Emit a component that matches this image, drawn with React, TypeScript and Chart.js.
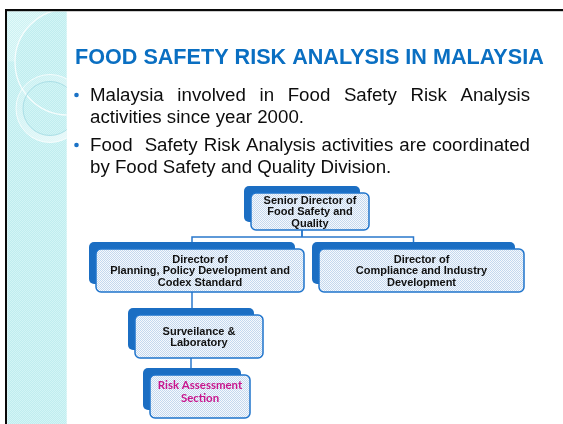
import React, { useEffect, useRef } from "react";
import { Chart, registerables } from "chart.js";

Chart.register(...registerables);

// ---- content ----
const slideTitle = "FOOD SAFETY RISK ANALYSIS IN MALAYSIA";
const bullet1 = ["Malaysia involved in Food Safety Risk Analysis", "activities since year 2000."];
const bullet2 = ["Food  Safety Risk Analysis activities are coordinated", "by Food Safety and Quality Division."];
const orgLabels = [
  ["Senior Director of", "Food Safety and", "Quality"],
  ["Director of", "Planning, Policy Development and", "Codex Standard"],
  ["Director of", "Compliance and Industry", "Development"],
  ["Surveilance &", "Laboratory"],
  ["Risk Assessment", "Section"],
];
const orgParents = [-1, 0, 0, 1, 3];
const orgHighlight = [false, false, false, false, true];

const W = 563;
const H = 424;

function makePattern(ctx: CanvasRenderingContext2D, a: string, b: string) {
  const c = document.createElement("canvas");
  c.width = 2;
  c.height = 2;
  const g = c.getContext("2d")!;
  g.fillStyle = a;
  g.fillRect(0, 0, 2, 2);
  g.fillStyle = b;
  g.fillRect(0, 0, 1, 1);
  g.fillRect(1, 1, 1, 1);
  return ctx.createPattern(c, "repeat")!;
}

export default function App() {
  const ref = useRef<HTMLCanvasElement | null>(null);

  useEffect(() => {
    const canvas = ref.current!;
    // layout of the slide (x, y, w, h) in slide units
    const boxes = [
      [251, 193, 118, 37],
      [96, 249, 208, 43],
      [319, 249, 205, 43],
      [135, 315, 128, 43],
      [150, 375, 100, 43],
    ];

    const slidePlugin = {
      id: "slide",
      afterDraw(chart: any) {
        const ctx: CanvasRenderingContext2D = chart.ctx;
        const xs = chart.scales.x;
        const ys = chart.scales.y;
        const X = (v: number) => xs.getPixelForValue(v);
        const Y = (v: number) => ys.getPixelForValue(v);
        const S = (v: number) => X(v) - X(0);

        ctx.save();
        // white page
        ctx.fillStyle = "#ffffff";
        ctx.fillRect(X(0), Y(0), S(W), S(H));

        // left cyan panel
        const px0 = X(7.3), py0 = Y(11.5), pw = S(59.4), ph = S(H - 11.5);
        ctx.fillStyle = makePattern(ctx, "#c0edef", "#d3f5f6");
        ctx.fillRect(px0, py0, pw, ph);

        ctx.save();
        ctx.beginPath();
        ctx.rect(px0, py0, pw, ph);
        ctx.clip();
        // lighter top-left region outside the big arc
        ctx.save();
        ctx.beginPath();
        ctx.rect(px0, py0, S(50), S(50));
        ctx.clip();
        ctx.beginPath();
        ctx.rect(px0, py0, S(62), S(52));
        ctx.arc(X(68), Y(62), S(53), 0, Math.PI * 2, true);
        ctx.fillStyle = makePattern(ctx, "#cdf2f3", "#e2f9f9");
        ctx.fill("evenodd");
        ctx.restore();
        // big arc
        ctx.beginPath();
        ctx.arc(X(68), Y(62), S(53), 0, Math.PI * 2);
        ctx.strokeStyle = "rgba(255,255,255,0.8)";
        ctx.lineWidth = 1.3;
        ctx.stroke();
        // ring
        const grd = ctx.createLinearGradient(X(20), Y(75), X(70), Y(142));
        grd.addColorStop(0, "rgba(255,255,255,0.08)");
        grd.addColorStop(1, "rgba(255,255,255,0.6)");
        ctx.beginPath();
        ctx.arc(X(50), Y(108.5), S(34), 0, Math.PI * 2);
        ctx.arc(X(50), Y(108.5), S(27), 0, Math.PI * 2, true);
        ctx.fillStyle = grd;
        ctx.fill("evenodd");
        ctx.lineWidth = 1;
        ctx.strokeStyle = "rgba(255,255,255,0.75)";
        ctx.beginPath();
        ctx.arc(X(50), Y(108.5), S(34), 0, Math.PI * 2);
        ctx.stroke();
        ctx.strokeStyle = "rgba(160,218,226,0.8)";
        ctx.beginPath();
        ctx.arc(X(50), Y(108.5), S(27), 0, Math.PI * 2);
        ctx.stroke();
        ctx.restore();

        // slide frame lines
        ctx.fillStyle = "#0a0a0a";
        ctx.fillRect(X(5), Y(9), S(W - 5), S(2.2));
        ctx.fillRect(X(5), Y(9), S(2), S(H - 9));

        // title
        ctx.fillStyle = "#0a6fc2";
        ctx.textBaseline = "alphabetic";
        ctx.textAlign = "left";
        ctx.font = `bold ${S(21.6)}px "Liberation Sans", Arial, sans-serif`;
        ctx.fillText(slideTitle, X(75), Y(64));

        // bullets
        ctx.font = `${S(18.7)}px "Liberation Sans", Arial, sans-serif`;
        const justify = (text: string, x: number, y: number, width: number) => {
          const tokens = text.split(" ");
          const wordsW = tokens.reduce((s, t) => s + ctx.measureText(t).width, 0);
          const gap = (width - wordsW) / (tokens.length - 1);
          let cx = x;
          tokens.forEach((t) => {
            ctx.fillText(t, cx, y);
            cx += ctx.measureText(t).width + gap;
          });
        };
        const bullets = [bullet1, bullet2];
        const bulletBase = [100.7, 150.7];
        bullets.forEach((lines, bi) => {
          ctx.fillStyle = "#1a72c6";
          ctx.beginPath();
          ctx.arc(X(76.5), Y(bulletBase[bi] - 5.7), S(2.3), 0, Math.PI * 2);
          ctx.fill();
          ctx.fillStyle = "#0d0d0d";
          lines.forEach((ln, li) => {
            const y = Y(bulletBase[bi] + li * 22.3);
            if (li < lines.length - 1) justify(ln, X(90), y, S(440));
            else ctx.fillText(ln, X(90), y);
          });
        });

        // org chart
        const anchorX = (i: number) => boxes[i][0] + boxes[i][2] / 2 - 8;
        const shadowTop = (i: number) => boxes[i][1] - 7;
        const bottom = (i: number) => boxes[i][1] + boxes[i][3];
        ctx.strokeStyle = "#2a78cc";
        ctx.lineWidth = 1.5;
        orgParents.forEach((p, i) => {
          if (p < 0) return;
          const siblings = orgParents.filter((q) => q === p).length;
          ctx.beginPath();
          if (siblings > 1) {
            const busY = bottom(p) + 7;
            ctx.moveTo(X(anchorX(p)), Y(bottom(p)));
            ctx.lineTo(X(anchorX(p)), Y(busY));
            ctx.moveTo(X(anchorX(p)), Y(busY));
            ctx.lineTo(X(anchorX(i)), Y(busY));
            ctx.lineTo(X(anchorX(i)), Y(shadowTop(i)));
          } else {
            ctx.moveTo(X(anchorX(p)), Y(bottom(p)));
            ctx.lineTo(X(anchorX(p)), Y(shadowTop(i)));
          }
          ctx.stroke();
        });

        const boxFill = makePattern(ctx, "#f6f9fd", "#c4d8ee");
        orgLabels.forEach((lines, i) => {
          const [bx, by, bw, bh] = boxes[i];
          // shadow
          ctx.fillStyle = "#1b6ec3";
          ctx.beginPath();
          (ctx as any).roundRect(X(bx - 7), Y(by - 7), S(bw - 2), S(bh - 1), S(5));
          ctx.fill();
          // front
          ctx.beginPath();
          (ctx as any).roundRect(X(bx), Y(by), S(bw), S(bh), S(5));
          ctx.fillStyle = boxFill;
          ctx.fill();
          ctx.strokeStyle = "#1f74cc";
          ctx.lineWidth = 1.5;
          ctx.stroke();
          // text
          ctx.textAlign = "center";
          const cx = X(bx + bw / 2);
          const cy = by + bh / 2;
          const mid = (lines.length - 1) / 2;
          if (orgHighlight[i]) {
            ctx.font = `bold ${S(12)}px Lato, "Noto Sans", sans-serif`;
            const m = ctx.measureText(lines[0]).width;
            const fs = (12 * S(84.4)) / m;
            ctx.font = `bold ${fs}px Lato, "Noto Sans", sans-serif`;
            ctx.fillStyle = "#c8158d";
            lines.forEach((ln, li) => ctx.fillText(ln, cx, Y(cy - 1 + (li - mid) * 12.4)));
          } else {
            ctx.font = `bold ${S(11)}px "Liberation Sans", Arial, sans-serif`;
            ctx.fillStyle = "#111111";
            lines.forEach((ln, li) => ctx.fillText(ln, cx, Y(cy + 3.9 + (li - mid) * 11.1)));
          }
          ctx.textAlign = "left";
        });
        ctx.restore();
      },
    };

    const chart = new Chart(canvas, {
      type: "scatter",
      data: { datasets: [{ data: [], pointRadius: 0 }] },
      options: {
        responsive: false,
        maintainAspectRatio: false,
        animation: false,
        events: [],
        layout: { padding: 0 },
        plugins: { legend: { display: false }, tooltip: { enabled: false }, title: { display: false } },
        scales: {
          x: { type: "linear", min: 0, max: W, display: false },
          y: { type: "linear", min: 0, max: H, reverse: true, display: false },
        },
      },
      plugins: [slidePlugin as any],
    });
    return () => chart.destroy();
  }, []);

  return (
    <div style={{ position: "fixed", left: 0, top: 0, width: W, height: H, background: "#fff" }}>
      <canvas ref={ref} width={W} height={H} style={{ width: W, height: H, display: "block" }} />
    </div>
  );
}
